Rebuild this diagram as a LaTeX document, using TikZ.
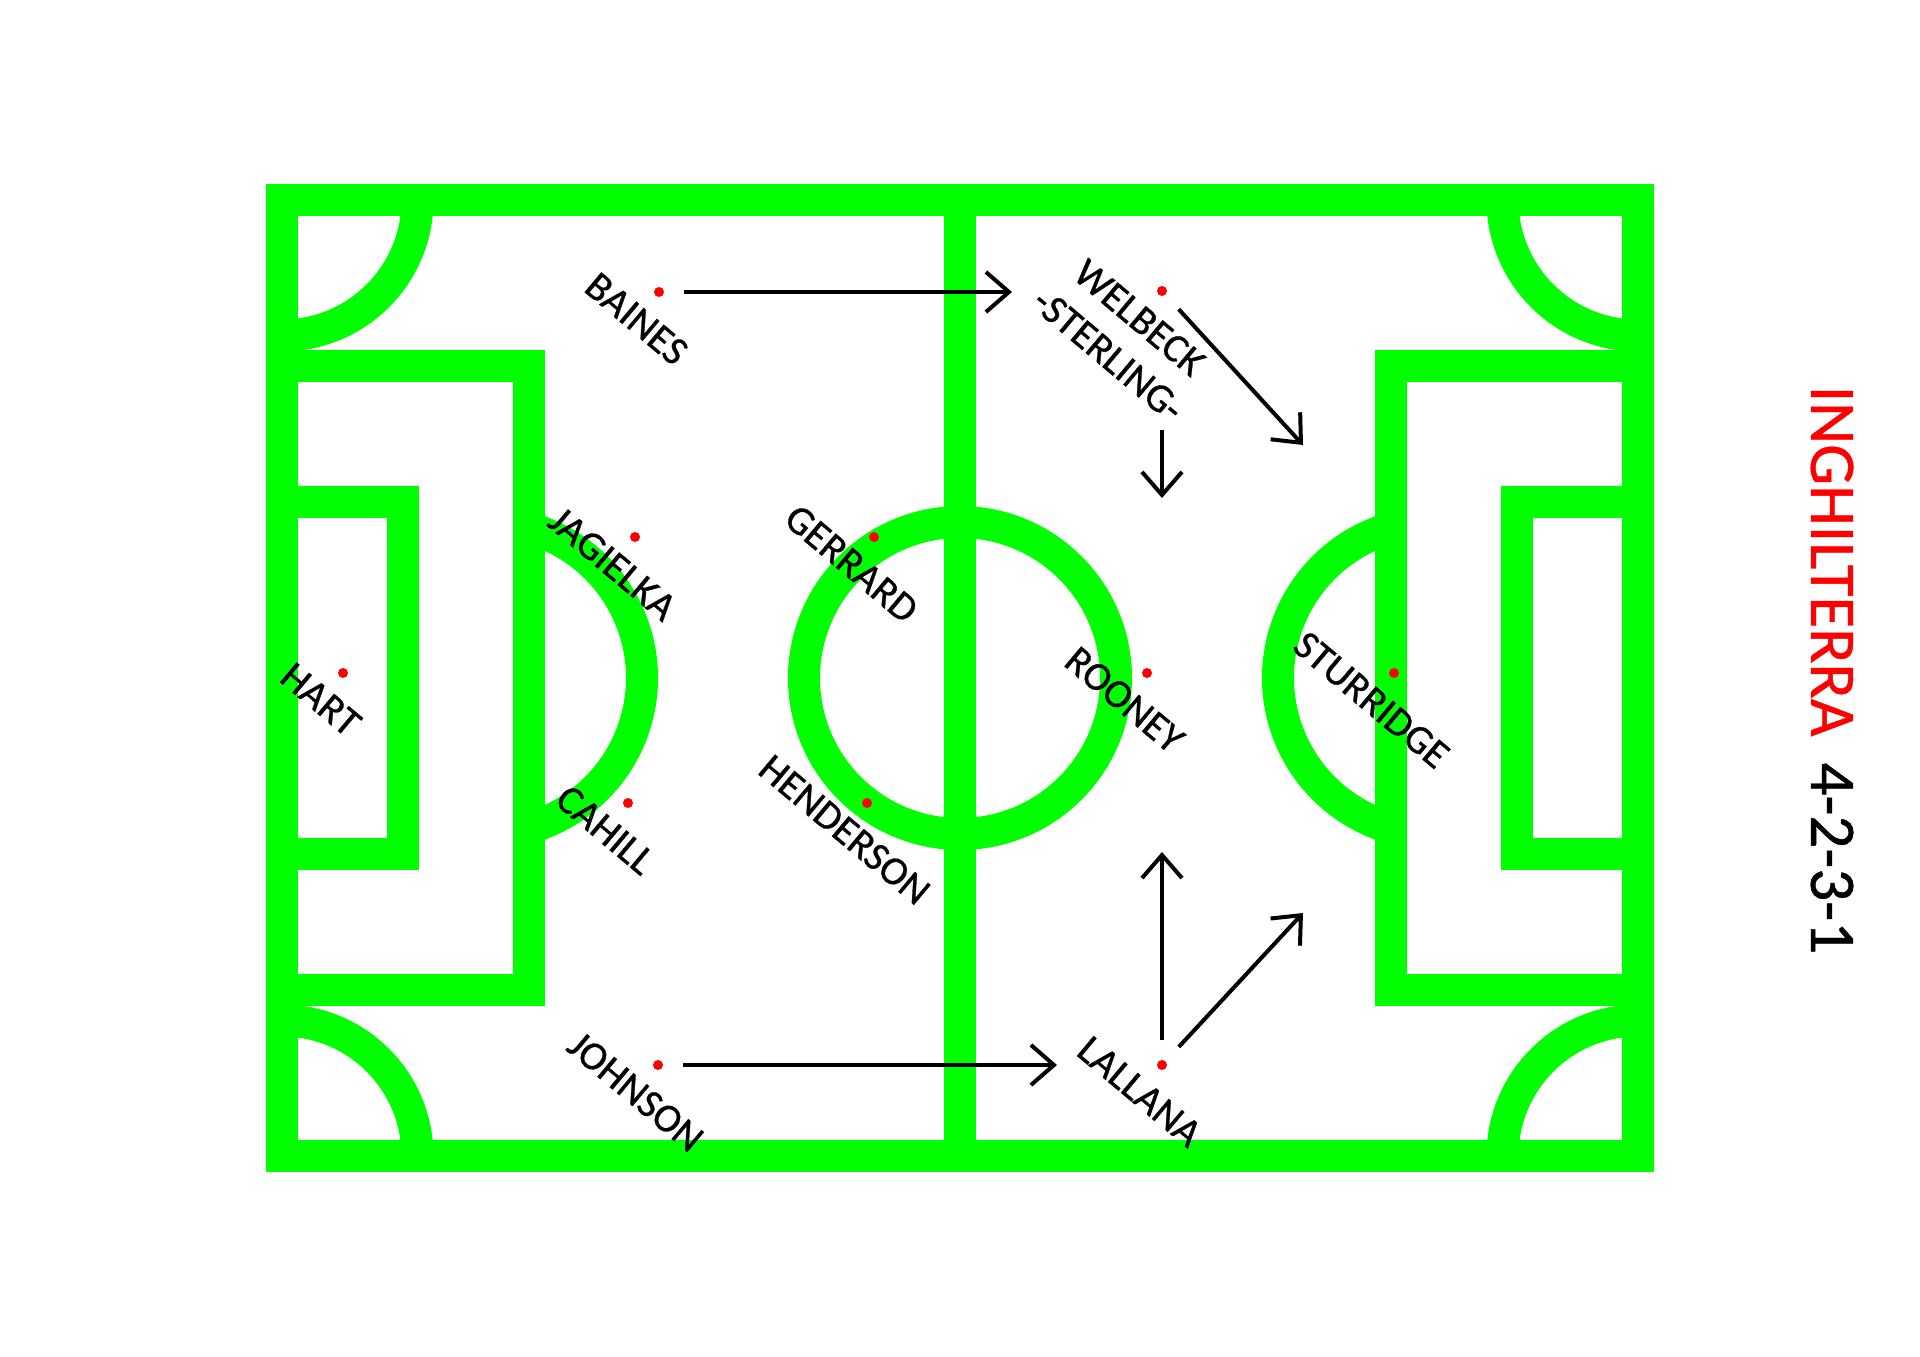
\documentclass[tikz,border=0pt]{standalone}
\usepackage{fontspec}
\setmainfont{Carlito}
\newfontfamily\pitchfont[FakeBold=0.7]{Carlito}
\usetikzlibrary{arrows.meta}
\definecolor{pitchgreen}{RGB}{0,255,0}

\begin{document}
\begin{tikzpicture}[x=0.01cm,y=0.01cm,
  >={Straight Barb[length=0.23cm,width=0.4cm]},
  pitchline/.style={draw=pitchgreen,line width=0.32cm},
  player/.style={circle,fill=red,inner sep=0pt,minimum size=0.1cm},
  plabel/.style={rotate=-40,anchor=north,inner sep=0pt,align=center,
    font=\pitchfont\fontsize{11.5}{13.8}\selectfont},
  runarrow/.style={->,line width=0.04cm},
  fromplayer/.style={runarrow,shorten <=0.19cm}]
\useasboundingbox (0,0) rectangle (1920,1356);
% pitch lines
\draw[pitchline] (282,200) rectangle (1638,1156);
\draw[pitchline] (960,200) -- (960,1156);
\draw[pitchline] (960,678) circle[radius=156];
\draw[pitchline] (282,366) rectangle (529,990);
\draw[pitchline] (282,502) rectangle (403,854);
\draw[pitchline] (1638,366) rectangle (1391,990);
\draw[pitchline] (1638,502) rectangle (1517,854);
\draw[pitchline] (529,828) arc[start angle=74,end angle=-74,radius=156];
\draw[pitchline] (1391,828) arc[start angle=106,end angle=254,radius=156];
% corners
\draw[pitchline] (417.5,1156) arc[start angle=0,end angle=-90,radius=135.5];
\draw[pitchline] (1502.5,1156) arc[start angle=180,end angle=270,radius=135.5];
\draw[pitchline] (417.5,200) arc[start angle=0,end angle=90,radius=135.5];
\draw[pitchline] (1502.5,200) arc[start angle=180,end angle=90,radius=135.5];

% players
\node[player] (hart) at (343,683) {};
\node[player] (jagielka) at (635,819) {};
\node[player] (cahill) at (628,553) {};
\node[player] (baines) at (659,1064) {};
\node[player] (johnson) at (658,291) {};
\node[player] (gerrard) at (874,819) {};
\node[player] (henderson) at (867,553) {};
\node[player] (rooney) at (1147,683) {};
\node[player] (welbeck) at (1162,1065) {};
\node[player] (lallana) at (1162,291) {};
\node[player] (sturridge) at (1394,683) {};

\node[plabel] (hartname) at ([shift={(-130:21)}]hart) {HART};
\node[plabel] (jagielkaname) at ([shift={(-130:21)}]jagielka) {JAGIELKA};
\node[plabel] (cahillname) at ([shift={(-130:21)}]cahill) {CAHILL};
\node[plabel] (bainesname) at ([shift={(-130:21)}]baines) {BAINES};
\node[plabel] (johnsonname) at ([shift={(-130:21)}]johnson) {JOHNSON};
\node[plabel] (gerrardname) at ([shift={(-130:21)}]gerrard) {GERRARD};
\node[plabel] (hendersonname) at ([shift={(-130:21)}]henderson) {HENDERSON};
\node[plabel] (rooneyname) at ([shift={(-130:21)}]rooney) {ROONEY};
\node[plabel] (welbeckname) at ([shift={(-130:21)}]welbeck) {WELBECK\\-STERLING-};
\node[plabel] (lallananame) at ([shift={(-130:21)}]lallana) {LALLANA};
\node[plabel] (sturridgename) at ([shift={(-130:21)}]sturridge) {STURRIDGE};

% runs
\coordinate (bainesto) at (1012,1064);
\coordinate (johnsonto) at (1057,291);
\coordinate (welbeckto) at (1303,911);
\coordinate (dropfrom) at (1162,926);
\coordinate (dropto) at (1162,858);
\coordinate (lallanaup) at (1162,504);
\coordinate (lallanato) at (1303,443);
\draw[fromplayer] (baines) -- (bainesto);
\draw[fromplayer] (johnson) -- (johnsonto);
\draw[fromplayer] (welbeck) -- (welbeckto);
\draw[runarrow] (dropfrom) -- (dropto);
\draw[fromplayer] (lallana) -- (lallanaup);
\draw[fromplayer] (lallana) -- (lallanato);

% title
\node[rotate=-90,inner sep=0pt,font=\pitchfont\fontsize{18.5}{22}\selectfont] (title) at (1832,686)
  {\textcolor{red}{INGHILTERRA}\hspace{0.4em}4-2-3-1};
\end{tikzpicture}
\end{document}
